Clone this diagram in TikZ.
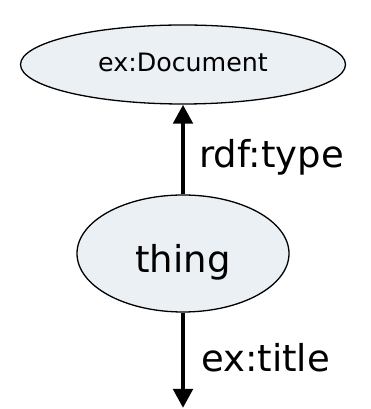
\documentclass[tikz,border=0pt]{standalone}
\usepackage{fontspec}
\setmainfont{DejaVu Sans}
\usetikzlibrary{shapes.geometric,arrows.meta}
\definecolor{nodefill}{RGB}{235,240,245}
\begin{document}
\begin{tikzpicture}[x=1pt, y=1pt,
    res/.style={ellipse, draw, line width=1.3pt, fill=nodefill, inner sep=0pt, text depth=0pt},
    prop/.style={line width=4.8pt, -{Triangle[width=19pt,length=19pt]}},
    lbl/.style={anchor=base west, inner sep=0pt, font=\fontsize{37}{40}\selectfont}]
    \useasboundingbox (0,0) rectangle (370,409);
    \node[res, minimum width=325pt, minimum height=79pt, text height=15pt, font=\fontsize{25.3}{28}\selectfont] (doc) at (183,344.5) {ex:Document};
    \node[res, minimum width=212pt, minimum height=117pt, text height=39pt, font=\fontsize{37}{40}\selectfont] (thing) at (183,155.5) {thing};
    \coordinate (end) at (183,1);
    \draw[prop] (thing.north) -- (doc.south);
    \draw[prop] (thing.south) -- (end);
    \node[lbl] (type) at (199,241) {rdf:type};
    \node[lbl] (title) at (201,37) {ex:title};
\end{tikzpicture}
\end{document}
